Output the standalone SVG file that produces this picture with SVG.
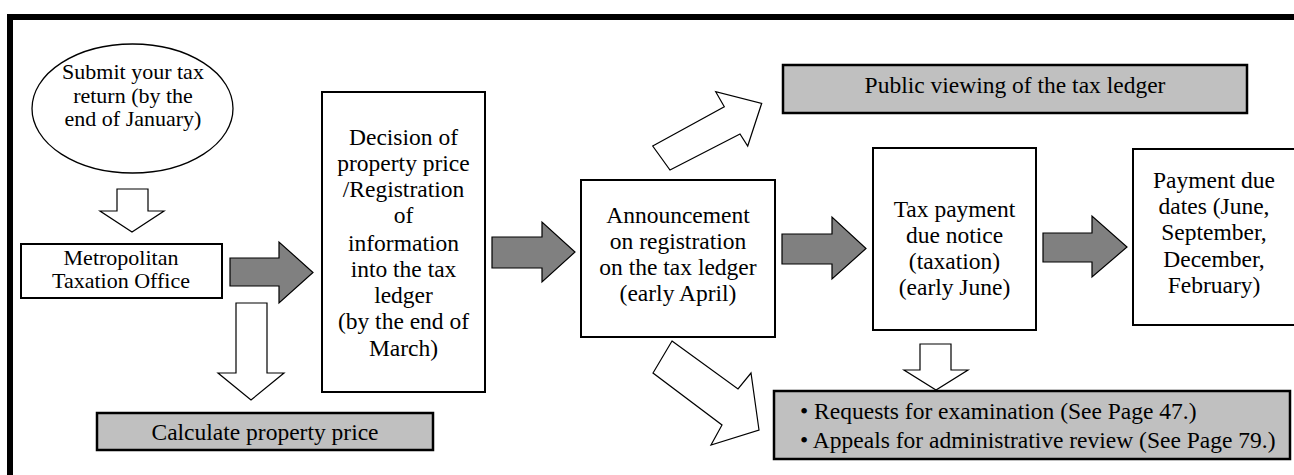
<svg xmlns="http://www.w3.org/2000/svg" width="1294" height="475" viewBox="0 0 1294 475">
<style>
text{font-family:"Liberation Serif","Times New Roman",serif;font-size:23.5px;fill:#000;text-anchor:middle}
.sm{font-size:22px}
.box{fill:#fff;stroke:#000;stroke-width:2}
.shade{fill:#c0c0c0;stroke:#000;stroke-width:2.5}
.ga{fill:#808080;stroke:#000;stroke-width:1.2;stroke-linejoin:miter}
.wa{fill:#fff;stroke:#000;stroke-width:1.2;stroke-linejoin:miter}
.lt{text-anchor:start}
</style>
<rect width="1294" height="475" fill="#fff"/>
<path d="M10,475 V17 H1300" fill="none" stroke="#000" stroke-width="6"/>

<g id="submit">
<ellipse cx="132.5" cy="108.5" rx="100.5" ry="64.5" fill="#fff" stroke="#000" stroke-width="1.3"/>
<text class="sm" x="133" y="79">Submit your tax</text>
<text class="sm" x="133" y="102.5">return (by the</text>
<text class="sm" x="133" y="126">end of January)</text>
</g>

<g id="metro">
<rect class="box" x="21" y="244" width="201" height="54" stroke-width="1.5"/>
<text class="sm" x="121" y="265">Metropolitan</text>
<text class="sm" x="121" y="288">Taxation Office</text>
</g>

<g id="calc">
<rect class="shade" x="97" y="413" width="336" height="37"/>
<text x="265" y="440">Calculate property price</text>
</g>

<g id="decision">
<rect class="box" x="322" y="92" width="163" height="300"/>
<text x="403.5" y="145">Decision of</text>
<text x="403.5" y="171">property price</text>
<text x="403.5" y="197">/Registration</text>
<text x="403.5" y="223">of</text>
<text x="403.5" y="251">information</text>
<text x="403.5" y="277">into the tax</text>
<text x="403.5" y="303">ledger</text>
<text x="403.5" y="329">(by the end of</text>
<text x="403.5" y="356">March)</text>
</g>

<g id="announce">
<rect class="box" x="581" y="180" width="194" height="157"/>
<text x="678" y="223">Announcement</text>
<text x="678" y="249">on registration</text>
<text x="678" y="275">on the tax ledger</text>
<text x="678" y="301">(early April)</text>
</g>

<g id="public">
<rect class="shade" x="783" y="65" width="464" height="48"/>
<text x="1015" y="93">Public viewing of the tax ledger</text>
</g>

<g id="notice">
<rect class="box" x="873" y="148" width="163" height="182"/>
<text x="954.5" y="217">Tax payment</text>
<text x="954.5" y="243">due notice</text>
<text x="954.5" y="269">(taxation)</text>
<text x="954.5" y="295">(early June)</text>
</g>

<g id="duedates">
<rect class="box" x="1133" y="149" width="163" height="176"/>
<text x="1214" y="188">Payment due</text>
<text x="1214" y="214">dates (June,</text>
<text x="1214" y="240">September,</text>
<text x="1214" y="267">December,</text>
<text x="1214" y="293">February)</text>
</g>

<g id="review">
<rect class="shade" x="774" y="391" width="516" height="68"/>
<text class="lt" x="800" y="419">• Requests for examination (See Page 47.)</text>
<text class="lt" x="800" y="448">• Appeals for administrative review (See Page 79.)</text>
</g>

<g id="connectors">
<polygon class="wa" points="117,189 148,189 148,211 164,211 132,232 100,211 117,211"/>
<polygon class="ga" points="230,258 279,258 279,242 313,272.5 279,303 279,286 230,286"/>
<polygon class="wa" points="236,303 267,303 267,373 284,373 251,400 218,373 236,373"/>
<polygon class="ga" points="492,237 542,237 542,222 575,252 542,282 542,268 492,268"/>
<polygon class="wa" points="652.7,146 724.3,106.7 715.7,91.7 761.7,103.3 747.7,146 740,134 670,170"/>
<polygon class="ga" points="782,234 832,234 832,217 866,248.5 832,279 832,264 782,264"/>
<polygon class="ga" points="1043,233 1092,233 1092,216 1127,247 1092,277 1092,262 1043,262"/>
<polygon class="wa" points="672,341 738,389 751,373 759,430 711,445 722,425 653,373"/>
<polygon class="wa" points="920,344 951,344 951,370 968,370 936,390 904,370 920,370"/>
</g>
</svg>
